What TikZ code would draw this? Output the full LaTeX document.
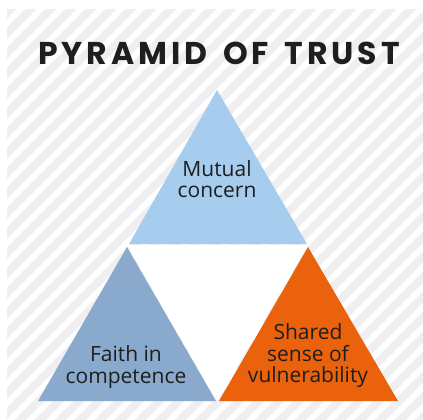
\documentclass[tikz,border=0pt]{standalone}
\usepackage{fontspec}
\setmainfont{Open Sans}
\newfontfamily\titlefont[LetterSpace=12.5]{Poppins}
\usetikzlibrary{positioning}
\definecolor{stripebg}{RGB}{239,239,242}
\definecolor{skyblue}{RGB}{166,204,238}
\definecolor{steelblue}{RGB}{138,170,205}
\definecolor{burnt}{RGB}{234,98,12}
\definecolor{ink}{RGB}{30,30,30}

\begin{document}
\begin{tikzpicture}[x=1pt, y=-1pt,
  label/.style={text=ink, align=center, font=\fontsize{21}{21.5}\selectfont, inner sep=0pt}]
  \useasboundingbox (0,0) rectangle (423,420);
  % striped backdrop
  \begin{scope}
    \clip (7,9) rectangle (423,420);
    \fill[stripebg] (7,9) rectangle (423,420);
    \foreach \c in {-420,-400,...,440}
      \draw[white, line width=6pt] (\c,430) -- ++(440,-440);
  \end{scope}
  \node[text=ink, font=\titlefont\bfseries\fontsize{31.5}{31.5}\selectfont, anchor=base] (title) at (219,65) {PYRAMID\hspace{5pt} OF\hspace{5pt} TRUST};
  % the three triangles and the gap between them
  \fill[white] (127,245) -- (308,245) -- (217,401) -- cycle;
  \fill[skyblue] (129,244) -- (307,244) -- (217,90) -- cycle;
  \fill[steelblue] (38,401) -- (216,401) -- (127,247) -- cycle;
  \fill[burnt] (219,401) -- (398,401) -- (308,247) -- cycle;
  \node[label] (mutual) at (217,179) {Mutual\\concern};
  \node[label] (faith) at (126,367) {Faith in\\competence};
  \node[label] (shared) at (308,356) {Shared\\sense of\\vulnerability};
\end{tikzpicture}
\end{document}
